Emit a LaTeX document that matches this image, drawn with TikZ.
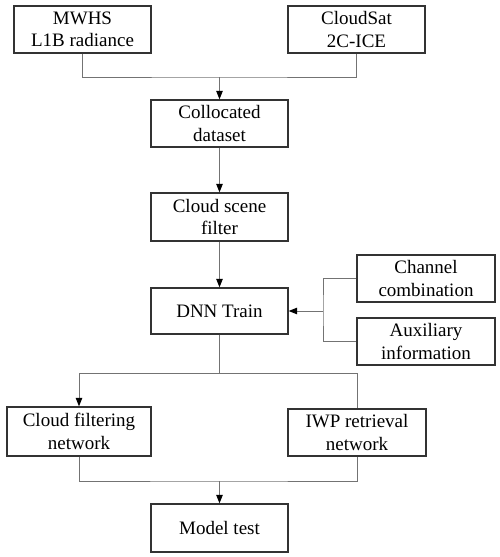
\documentclass[tikz,border=0pt]{standalone}
\usepackage{fontspec}
\setmainfont{Liberation Serif}
\usetikzlibrary{arrows.meta}
\begin{document}
\begin{tikzpicture}[x=1pt,y=-1pt,
  box/.style={draw=black!80, line width=1.3pt, fill=white, align=center, inner sep=0pt,
    font=\fontsize{19}{22.5}\selectfont, text=black},
  conn/.style={draw=black!55, line width=1pt},
  arr/.style={conn, -{Triangle[length=8.5pt,width=6.5pt,color=black]}}]
\useasboundingbox (0,0) rectangle (500,557);
\node[box, minimum width=137pt, minimum height=47pt] (mwhs) at (82.5,29.5) {MWHS\\L1B radiance};
\node[box, minimum width=137pt, minimum height=47pt] (cs) at (356.5,29.5) {CloudSat\\2C-ICE};
\node[box, minimum width=137pt, minimum height=47pt] (col) at (219.5,123.5) {Collocated\\dataset};
\node[box, minimum width=137pt, minimum height=48pt] (csf) at (219.5,217) {Cloud scene\\filter};
\node[box, minimum width=137pt, minimum height=46pt] (dnn) at (219.5,311) {DNN Train};
\node[box, minimum width=138pt, minimum height=47pt] (ch) at (426,278.5) {Channel\\combination};
\node[box, minimum width=138pt, minimum height=47pt] (aux) at (426,341.5) {Auxiliary\\information};
\node[box, minimum width=144pt, minimum height=49pt] (cf) at (79,431.5) {Cloud filtering\\network};
\node[box, minimum width=138pt, minimum height=47pt] (iwp) at (357,432.5) {IWP retrieval\\network};
\node[box, minimum width=137pt, minimum height=48pt] (mt) at (219.5,528) {Model test};
\coordinate (j1) at (219.5,77);
\coordinate (j2) at (323,311);
\coordinate (j3) at (219.5,373);
\coordinate (j4) at (219.5,481);
\draw[conn] (mwhs.south) |- (j1) -| (cs.south);
\draw[arr] (j1) -- (col.north);
\draw[arr] (col.south) -- (csf.north);
\draw[arr] (csf.south) -- (dnn.north);
\draw[conn] (ch.west) -| (j2) |- (aux.west);
\draw[arr] (j2) -- (dnn.east);
\draw[conn] (dnn.south) -- (j3);
\draw[arr] (j3) -| (cf.north);
\draw[conn] (j3) -| (iwp.north);
\draw[conn] (cf.south) |- (j4) -| (iwp.south);
\draw[arr] (j4) -- (mt.north);
\end{tikzpicture}
\end{document}
